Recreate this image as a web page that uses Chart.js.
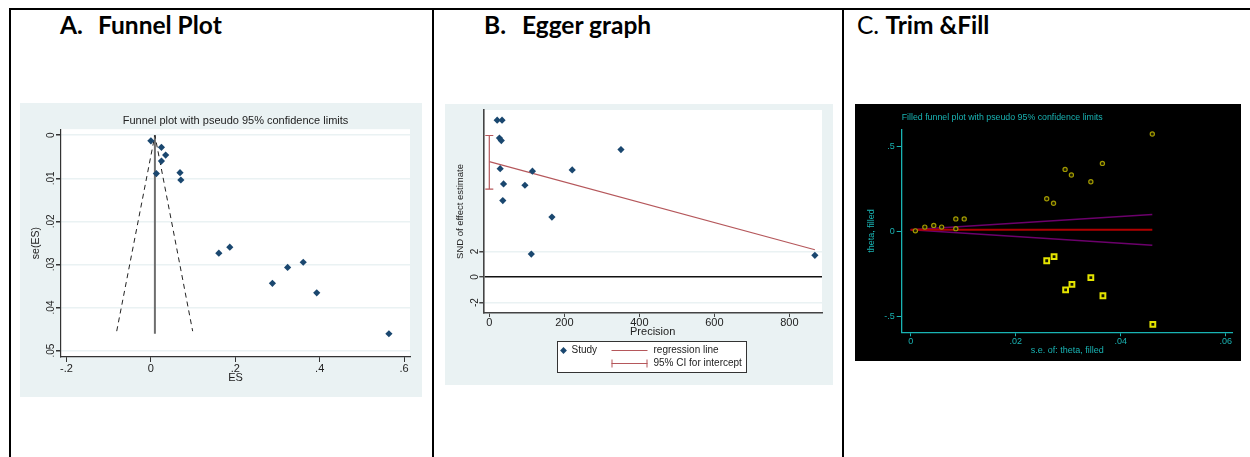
<!DOCTYPE html>
<html>
<head>
<meta charset="utf-8">
<script src="https://cdn.jsdelivr.net/npm/chart.js@4"></script>
<style>
  body { margin: 0; width: 1250px; height: 457px; background: #fff; position: relative; overflow: hidden; }
  .rule { position: absolute; background: #000; }
  .head { position: absolute; top: 13px; font-family: Lato, "Liberation Sans", sans-serif; font-size: 24.5px; line-height: 1; color: #000; white-space: nowrap; }
  .b { font-weight: bold; }
  canvas { position: absolute; }
</style>
</head>
<body>
<div class="rule" style="left:9px;top:8px;width:1241px;height:2px"></div>
<div class="rule" style="left:9px;top:8px;width:2px;height:449px"></div>
<div class="rule" style="left:432px;top:8px;width:2px;height:449px"></div>
<div class="rule" style="left:842px;top:8px;width:2px;height:449px"></div>

<div class="head b" style="left:60px">A.</div>
<div class="head b" style="left:98px">Funnel Plot</div>
<div class="head b" style="left:484px">B.</div>
<div class="head b" style="left:522px">Egger graph</div>
<div class="head" style="left:857px">C. <span class="b">Trim &amp;Fill</span></div>

<canvas id="funnel" width="402" height="294" style="left:20px;top:103px"></canvas>
<canvas id="egger" width="388" height="281" style="left:445px;top:104px"></canvas>
<canvas id="trimfill" width="386" height="257" style="left:855px;top:104px"></canvas>

<script>
// A. funnel plot (ES vs se)
const studyES = [0.000, 0.025, 0.035, 0.025, 0.013, 0.069, 0.071, 0.161, 0.187, 0.288, 0.324, 0.361, 0.393, 0.564];
const studySE = [0.0013, 0.0028, 0.0046, 0.0060, 0.0089, 0.0087, 0.0104, 0.0274, 0.0260, 0.0344, 0.0307, 0.0295, 0.0366, 0.0461];
const pooledES = 0.0095;
const funnelLimitX = [-0.081, 0.0095, 0.099];
const funnelLimitY = [0.0455, 0, 0.0455];
const esTicks = [-0.2, 0, 0.2, 0.4, 0.6];
const seTicks = [0, 0.01, 0.02, 0.03, 0.04, 0.05];

// B. Egger graph (precision vs SND)
const precision = [21, 34, 27, 32, 29, 38, 36, 95, 115, 167, 112, 221, 351, 868];
const snd = [12.3, 12.3, 10.9, 10.7, 8.5, 7.3, 6.0, 7.2, 8.3, 4.7, 1.8, 8.4, 10.0, 1.7];
const regressionX = [0, 868];
const regressionY = [9.05, 2.14];
const interceptCI = [6.9, 11.1];
const precisionTicks = [0, 200, 400, 600, 800];
const sndTicks = [-2, 0, 2];

// C. trim and fill
const observedSE = [0.0009, 0.0027, 0.0044, 0.0059, 0.0086, 0.0086, 0.0102, 0.0259, 0.0272, 0.0294, 0.0306, 0.0343, 0.0365, 0.0460];
const observedTheta = [0.004, 0.026, 0.036, 0.026, 0.074, 0.017, 0.074, 0.192, 0.166, 0.364, 0.331, 0.292, 0.399, 0.571];
const filledSE = [0.0259, 0.0273, 0.0295, 0.0307, 0.0343, 0.0366, 0.0461];
const filledTheta = [-0.171, -0.147, -0.342, -0.309, -0.270, -0.376, -0.544];
const pooledTheta = 0.01;
const limitSE = [0, 0.046];
const upperLimit = [0.01, 0.100];
const lowerLimit = [0.01, -0.080];
const seFilledTicks = [0, 0.02, 0.04, 0.06];
const thetaTicks = [-0.5, 0, 0.5];

Chart.defaults.font.family = '"Liberation Sans", Arial, sans-serif';
Chart.defaults.animation = false;
Chart.defaults.plugins.legend.display = false;
Chart.defaults.plugins.tooltip.enabled = false;

const pts = (xs, ys) => xs.map((x, i) => ({ x: x, y: ys[i] }));
const stata = v => v === 0 ? '0' : String(v).replace('0.', '.');
const fixTicks = arr => scale => { scale.ticks = arr.map(v => ({ value: v })); };
const fixWidth = w => s => { s.width = w; s.paddingTop = 0; s.paddingBottom = 0; };
const fixHeight = h => s => { s.height = h; s.paddingLeft = 0; s.paddingRight = 0; };

const panelBg = {
  id: 'panelBg',
  beforeDraw(chart, args, opts) {
    const { ctx, chartArea: a, width, height } = chart;
    ctx.save();
    ctx.fillStyle = opts.outer;
    ctx.fillRect(0, 0, width, height);
    if (opts.inner) {
      ctx.fillStyle = opts.inner;
      ctx.fillRect(a.left, a.top, a.right - a.left, a.bottom - a.top);
    }
    ctx.restore();
  }
};

// Stata lines the title up with the plot region, not the whole graph
const titleOverPlot = {
  id: 'titleOverPlot',
  afterLayout(chart) {
    if (chart.titleBlock) {
      chart.titleBlock.left = chart.chartArea.left;
      chart.titleBlock.right = chart.chartArea.right;
    }
  }
};

const stataBg = '#eaf2f3';
const navy = '#1a476f';

// ---- A
new Chart(document.getElementById('funnel'), {
  type: 'scatter',
  plugins: [panelBg, titleOverPlot],
  data: {
    datasets: [
      { data: pts(studyES, studySE), pointStyle: 'rectRot', pointRadius: 3.6, backgroundColor: navy, borderColor: navy, borderWidth: 0 },
      { data: pts(funnelLimitX, funnelLimitY), showLine: true, borderColor: '#222', borderWidth: 1, borderDash: [5, 4], pointRadius: 0 },
      { data: pts([pooledES, pooledES], [0, 0.0461]), showLine: true, borderColor: '#6e6e6e', borderWidth: 2, pointRadius: 0 }
    ]
  },
  options: {
    responsive: false,
    layout: { padding: { left: 0, top: 0, right: 12, bottom: 0 } },
    plugins: {
      panelBg: { outer: stataBg, inner: '#fff' },
      title: { display: true, text: 'Funnel plot with pseudo 95% confidence limits', color: '#222', font: { size: 11, weight: 'normal' }, padding: { top: 11, bottom: 2 } }
    },
    scales: {
      x: {
        type: 'linear', min: -0.213, max: 0.614,
        afterBuildTicks: fixTicks(esTicks), afterFit: fixHeight(40),
        grid: { drawOnChartArea: false, tickLength: 5, tickColor: '#333' },
        border: { color: '#333', width: 1.2 },
        ticks: { color: '#222', font: { size: 11 }, padding: 0, maxRotation: 0, callback: stata },
        title: { display: true, text: 'ES', color: '#222', font: { size: 11 }, padding: { top: 0, bottom: 12 } }
      },
      y: {
        type: 'linear', reverse: true, min: -0.0014, max: 0.0515,
        afterBuildTicks: fixTicks(seTicks), afterFit: fixWidth(41),
        grid: { color: stataBg, lineWidth: 1.5, tickLength: 5, tickColor: '#333' },
        border: { color: '#333', width: 1.2 },
        ticks: { color: '#222', font: { size: 10 }, padding: -2, minRotation: 90, maxRotation: 90, crossAlign: 'center', callback: stata },
        title: { display: true, text: 'se(ES)', color: '#222', font: { size: 10.5 }, padding: { top: 10, bottom: 0 } }
      }
    }
  }
});

// ---- B
const eggerLegend = {
  id: 'eggerLegend',
  afterDraw(chart) {
    const ctx = chart.ctx;
    const ds = chart.data.datasets;
    const x0 = 112.5, y0 = 237.5, w = 189, h = 31;
    const r1 = y0 + 9, r2 = y0 + 22;
    ctx.save();
    ctx.fillStyle = '#fff';
    ctx.fillRect(x0, y0, w, h);
    ctx.strokeStyle = '#333';
    ctx.lineWidth = 1;
    ctx.strokeRect(x0, y0, w, h);
    ctx.fillStyle = ds[0].backgroundColor;
    Chart.helpers.drawPoint(ctx, { pointStyle: 'rectRot', radius: 3.4, rotation: 0, borderWidth: 0 }, x0 + 6, r1);
    ctx.strokeStyle = ds[1].borderColor;
    ctx.beginPath();
    ctx.moveTo(x0 + 54, r1); ctx.lineTo(x0 + 90, r1);
    ctx.moveTo(x0 + 54, r2); ctx.lineTo(x0 + 90, r2);
    ctx.moveTo(x0 + 54.5, r2 - 4); ctx.lineTo(x0 + 54.5, r2 + 4);
    ctx.moveTo(x0 + 89.5, r2 - 4); ctx.lineTo(x0 + 89.5, r2 + 4);
    ctx.stroke();
    ctx.fillStyle = '#222';
    ctx.font = '10px "Liberation Sans", Arial, sans-serif';
    ctx.textBaseline = 'middle';
    ctx.fillText(ds[0].label, x0 + 14, r1);
    ctx.fillText(ds[1].label, x0 + 96, r1);
    ctx.fillText(ds[2].label, x0 + 96, r2);
    ctx.restore();
  }
};

const regColor = '#b5575b';
new Chart(document.getElementById('egger'), {
  type: 'scatter',
  plugins: [panelBg, eggerLegend],
  data: {
    datasets: [
      { label: 'Study', data: pts(precision, snd), pointStyle: 'rectRot', pointRadius: 3.6, backgroundColor: navy, borderColor: navy, borderWidth: 0 },
      { label: 'regression line', data: pts(regressionX, regressionY), showLine: true, borderColor: regColor, borderWidth: 1.2, pointRadius: 0 },
      { label: '95% CI for intercept', data: pts([0, 0], interceptCI), showLine: true, borderColor: regColor, borderWidth: 1.2,
        pointStyle: 'line', pointRadius: 4, pointBorderColor: regColor, pointBorderWidth: 1.2 }
    ]
  },
  options: {
    responsive: false,
    layout: { padding: { left: 0, top: 6, right: 11, bottom: 42 } },
    plugins: { panelBg: { outer: stataBg, inner: '#fff' } },
    scales: {
      x: {
        type: 'linear', min: -16, max: 887,
        afterBuildTicks: fixTicks(precisionTicks), afterFit: fixHeight(30),
        grid: { drawOnChartArea: false, tickLength: 4, tickColor: '#444' },
        border: { color: '#444', width: 1.6 },
        ticks: { color: '#222', font: { size: 11 }, padding: -1, maxRotation: 0 },
        title: { display: true, text: 'Precision', color: '#222', font: { size: 11 }, padding: { top: 0, bottom: 4 } }
      },
      y: {
        type: 'linear', min: -2.82, max: 13.1,
        afterBuildTicks: fixTicks(sndTicks), afterFit: fixWidth(38.3),
        grid: {
          color: c => c.tick && c.tick.value === 0 ? '#111' : stataBg,
          lineWidth: c => c.tick && c.tick.value === 0 ? 1.4 : 1.5,
          tickLength: 4, tickColor: '#444'
        },
        border: { color: '#444', width: 1.6 },
        ticks: { color: '#222', font: { size: 10 }, padding: 0, minRotation: 90, maxRotation: 90, crossAlign: 'center' },
        title: { display: true, text: 'SND of effect estimate', color: '#222', font: { size: 9.5 }, padding: { top: 9.3, bottom: 0 } }
      }
    }
  }
});

// ---- C
const cyan = '#19b3b3';

new Chart(document.getElementById('trimfill'), {
  type: 'scatter',
  plugins: [panelBg, {
    id: 'titleAtAxis',
    afterLayout(chart) { if (chart.titleBlock) chart.titleBlock.left = chart.chartArea.left; }
  }],
  data: {
    datasets: [
      { data: pts(observedSE, observedTheta), pointStyle: 'circle', pointRadius: 2.1, backgroundColor: '#1e1e00', borderColor: '#a09800', borderWidth: 1.2 },
      { data: pts(filledSE, filledTheta), pointStyle: 'rect', pointRadius: 3.4, backgroundColor: '#141400', borderColor: '#e4e400', borderWidth: 2 },
      { data: pts(limitSE, [pooledTheta, pooledTheta]), showLine: true, borderColor: '#b00000', borderWidth: 2, pointRadius: 0 },
      { data: pts(limitSE, upperLimit), showLine: true, borderColor: '#6c006c', borderWidth: 1.5, pointRadius: 0 },
      { data: pts(limitSE, lowerLimit), showLine: true, borderColor: '#6c006c', borderWidth: 1.5, pointRadius: 0 }
    ]
  },
  options: {
    responsive: false,
    layout: { padding: { left: 0, top: 0, right: 8.3, bottom: 0 } },
    plugins: {
      panelBg: { outer: '#000' },
      title: { display: true, align: 'start', text: 'Filled funnel plot with pseudo 95% confidence limits', color: cyan, font: { size: 8.8, weight: 'normal' }, padding: { top: 8.3, bottom: 6.9 } }
    },
    scales: {
      x: {
        type: 'linear', min: -0.0017, max: 0.0613,
        afterBuildTicks: fixTicks(seFilledTicks), afterFit: fixHeight(28.7),
        grid: { drawOnChartArea: false, tickLength: 4, tickColor: cyan },
        border: { color: cyan, width: 1.3 },
        ticks: { color: cyan, font: { size: 9 }, padding: 0, maxRotation: 0, callback: stata },
        title: { display: true, text: 's.e. of: theta, filled', color: cyan, font: { size: 9 }, padding: { top: 0, bottom: 5.5 } }
      },
      y: {
        type: 'linear', min: -0.59, max: 0.596,
        afterBuildTicks: fixTicks(thetaTicks), afterFit: fixWidth(46.7),
        grid: { drawOnChartArea: false, tickLength: 5, tickColor: cyan },
        border: { color: cyan, width: 1.3 },
        ticks: { color: cyan, font: { size: 9 }, padding: 2, callback: stata },
        title: { display: true, text: 'theta, filled', color: cyan, font: { size: 9 }, padding: { top: 11.5, bottom: 0 } }
      }
    }
  }
});
</script>
</body>
</html>
